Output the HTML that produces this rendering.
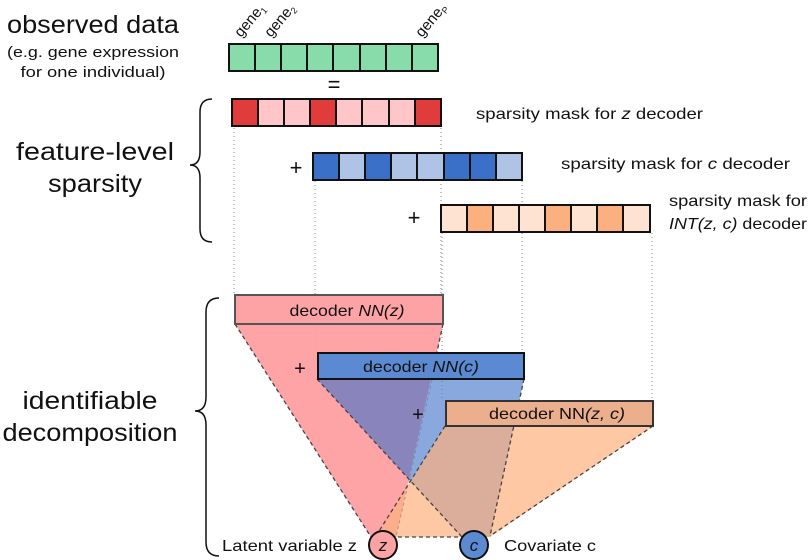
<!DOCTYPE html>
<html><head><style>html,body{margin:0;padding:0;background:#fff}svg{display:block}</style></head>
<body>
<svg width="809" height="560" viewBox="0 0 809 560" xmlns="http://www.w3.org/2000/svg" font-family="Liberation Sans, sans-serif" fill="#111">
<text x="93" y="33" font-size="25" text-anchor="middle" textLength="172" lengthAdjust="spacingAndGlyphs">observed data</text>
<text x="93" y="57" font-size="15" text-anchor="middle" textLength="172" lengthAdjust="spacingAndGlyphs">(e.g. gene expression</text>
<text x="93" y="77" font-size="15" text-anchor="middle" textLength="145" lengthAdjust="spacingAndGlyphs">for one individual)</text>
<text x="95" y="160" font-size="25" text-anchor="middle" textLength="158" lengthAdjust="spacingAndGlyphs">feature-level</text>
<text x="95" y="192" font-size="25" text-anchor="middle" textLength="94" lengthAdjust="spacingAndGlyphs">sparsity</text>
<text x="90" y="409" font-size="25" text-anchor="middle" textLength="135" lengthAdjust="spacingAndGlyphs">identifiable</text>
<text x="90" y="441" font-size="25" text-anchor="middle" textLength="175" lengthAdjust="spacingAndGlyphs">decomposition</text>
<path d="M212,99 Q200,99 200,112 L200,152 Q200,165 190,165 Q200,165 200,178 L200,229 Q200,242 212,242" fill="none" stroke="#111" stroke-width="1.5"/>
<path d="M219,298 Q206,298 206,312 L206,397 Q206,411 195,411 Q206,411 206,425 L206,542 Q206,556 219,556" fill="none" stroke="#111" stroke-width="1.5"/>
<g font-size="15">
<text transform="translate(241,38) rotate(-50)">gene<tspan font-size="9" dy="3">1</tspan></text>
<text transform="translate(271,38) rotate(-50)">gene<tspan font-size="9" dy="3">2</tspan></text>
<text transform="translate(422,38) rotate(-50)">gene<tspan font-size="9" dy="3">P</tspan></text>
</g>
<g stroke="#888" stroke-width="1" stroke-dasharray="1,3">
<line x1="234" y1="128" x2="234" y2="294"/>
<line x1="441" y1="128" x2="441" y2="294"/>
<line x1="315" y1="181" x2="315" y2="352"/>
<line x1="522" y1="181" x2="522" y2="352"/>
<line x1="442" y1="233" x2="442" y2="400"/>
<line x1="652" y1="233" x2="652" y2="400"/>
</g>
<g stroke="#111" stroke-width="2">
<rect x="229" y="44" width="209" height="27" fill="#88dcaa"/>
<rect x="232" y="99" width="209" height="27" fill="#ffc6c9"/>
<rect x="313" y="153" width="209" height="27" fill="#afc3e6"/>
<rect x="441" y="205" width="209" height="27" fill="#fee3d2"/>
<path d="M255,44v27M281,44v27M307,44v27M333,44v27M360,44v27M386,44v27M412,44v27"/>
<rect x="232" y="99" width="26" height="27" fill="#e03c3c"/>
<rect x="310" y="99" width="26" height="27" fill="#e03c3c"/>
<rect x="415" y="99" width="26" height="27" fill="#e03c3c"/>
<path d="M284,99v27M362,99v27M389,99v27"/>
<rect x="313" y="153" width="26" height="27" fill="#3a70c8"/>
<rect x="365" y="153" width="26" height="27" fill="#3a70c8"/>
<rect x="444" y="153" width="26" height="27" fill="#3a70c8"/>
<rect x="470" y="153" width="26" height="27" fill="#3a70c8"/>
<path d="M417,153v27"/>
<rect x="467" y="205" width="26" height="27" fill="#fdb07f"/>
<rect x="545" y="205" width="26" height="27" fill="#fdb07f"/>
<rect x="597" y="205" width="26" height="27" fill="#fdb07f"/>
<path d="M519,205v27"/>
</g>
<text x="334" y="92" font-size="22" text-anchor="middle">=</text>
<text x="296" y="175" font-size="22" text-anchor="middle">+</text>
<text x="414" y="225" font-size="22" text-anchor="middle">+</text>
<g font-size="16">
<text x="476" y="119" textLength="227" lengthAdjust="spacingAndGlyphs">sparsity mask for <tspan font-style="italic">z</tspan> decoder</text>
<text x="561" y="169" textLength="229" lengthAdjust="spacingAndGlyphs">sparsity mask for <tspan font-style="italic">c</tspan> decoder</text>
<text x="669" y="206" textLength="138" lengthAdjust="spacingAndGlyphs">sparsity mask for</text>
<text x="669" y="229" textLength="138" lengthAdjust="spacingAndGlyphs"><tspan font-style="italic">INT(z, c)</tspan> decoder</text>
</g>
<polygon points="235,324 443,324 396,537 371,537" fill="#fe9a9d" opacity="0.9"/>
<polygon points="317,379 524,379 490,537 462,537" fill="#3a70c8" opacity="0.6"/>
<polygon points="445,426 653,426 490,537 376,537" fill="#fdb07f" opacity="0.7"/>
<g fill="none" stroke="#444" stroke-width="1.3" stroke-dasharray="4,3">
<line x1="235" y1="324" x2="371" y2="537"/>
<line x1="443" y1="324" x2="437" y2="352"/>
<line x1="317" y1="379" x2="462" y2="537"/>
<line x1="524" y1="379" x2="490" y2="536"/>
<line x1="445" y1="426" x2="376" y2="536"/>
<line x1="653" y1="426" x2="490" y2="536"/>
<line x1="398" y1="537" x2="460" y2="537"/>
</g>
<g fill="none" stroke="#777" stroke-width="1" stroke-dasharray="3,3" opacity="0.6">
<line x1="432" y1="380" x2="396" y2="537"/>
</g>
<rect x="235" y="295" width="208" height="29" fill="#fea3a5" stroke="#555" stroke-width="2"/>
<text x="347" y="316" font-size="16" text-anchor="middle" textLength="115" lengthAdjust="spacingAndGlyphs">decoder <tspan font-style="italic">NN(z)</tspan></text>
<rect x="318" y="353" width="206" height="26" fill="#5b8ad2" stroke="#111" stroke-width="2"/>
<text x="421" y="372" font-size="16" text-anchor="middle" textLength="116" lengthAdjust="spacingAndGlyphs">decoder <tspan font-style="italic">NN(c)</tspan></text>
<rect x="446" y="401" width="207" height="25" fill="#ebaf8e" stroke="#333" stroke-width="2"/>
<text x="557" y="419" font-size="16" text-anchor="middle" textLength="136" lengthAdjust="spacingAndGlyphs">decoder NN<tspan font-style="italic">(z, c)</tspan></text>
<text x="300" y="375" font-size="20" text-anchor="middle">+</text>
<text x="418" y="421" font-size="20" text-anchor="middle">+</text>
<circle cx="383" cy="545" r="14" fill="#fea3a5" stroke="#111" stroke-width="2"/>
<text x="383" y="551" font-size="17" font-style="italic" text-anchor="middle">z</text>
<circle cx="474" cy="545" r="14" fill="#5b8ad2" stroke="#111" stroke-width="2"/>
<text x="474" y="551" font-size="17" font-style="italic" text-anchor="middle">c</text>
<text x="222" y="551" font-size="16" textLength="135" lengthAdjust="spacingAndGlyphs">Latent variable z</text>
<text x="504" y="551" font-size="16" textLength="92" lengthAdjust="spacingAndGlyphs">Covariate c</text>
</svg>
</body></html>
